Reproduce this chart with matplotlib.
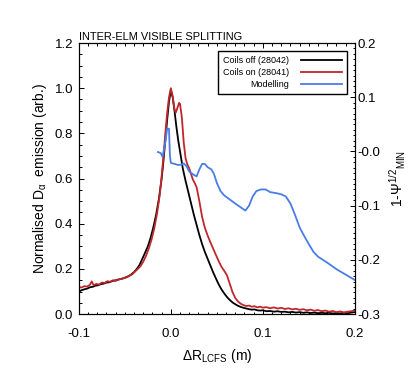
import numpy as np
import matplotlib
matplotlib.use('Agg')
import matplotlib.pyplot as plt
from matplotlib.ticker import MultipleLocator, FixedLocator, FixedFormatter

plt.rcParams['font.family'] = ['Liberation Sans', 'DejaVu Sans']
plt.rcParams['mathtext.default'] = 'regular'

# Coils off (28042)
x_off = [-0.100, -0.097, -0.094, -0.091, -0.088, -0.085, -0.082, -0.079, -0.076, -0.073,
         -0.070, -0.067, -0.064, -0.061, -0.058, -0.055, -0.052, -0.049, -0.046, -0.043,
         -0.040, -0.037, -0.034, -0.031, -0.028, -0.025, -0.022, -0.019, -0.016, -0.013,
         -0.010, -0.008, -0.006, -0.004, -0.002, 0.000, 0.002, 0.004, 0.006, 0.008,
         0.010, 0.013, 0.016, 0.019, 0.022, 0.025, 0.028, 0.031, 0.034, 0.037,
         0.040, 0.043, 0.046, 0.049, 0.052, 0.055, 0.058, 0.061, 0.064, 0.067,
         0.070, 0.073, 0.076, 0.079, 0.082, 0.085, 0.088, 0.091, 0.094, 0.097,
         0.100, 0.104, 0.108, 0.112, 0.116, 0.120, 0.124, 0.128, 0.132, 0.136,
         0.140, 0.144, 0.148, 0.152, 0.156, 0.160, 0.164, 0.168, 0.172, 0.176,
         0.180, 0.184, 0.188, 0.192, 0.196, 0.200]
y_off = [0.100, 0.106, 0.110, 0.113, 0.119, 0.121, 0.126, 0.128, 0.133, 0.135,
         0.140, 0.141, 0.146, 0.149, 0.152, 0.155, 0.158, 0.163, 0.168, 0.176,
         0.186, 0.200, 0.218, 0.245, 0.272, 0.300, 0.338, 0.385, 0.440, 0.510,
         0.600, 0.680, 0.770, 0.860, 0.940, 0.990, 0.960, 0.900, 0.830, 0.770,
         0.720, 0.645, 0.590, 0.540, 0.490, 0.440, 0.395, 0.350, 0.310, 0.275,
         0.245, 0.215, 0.185, 0.158, 0.132, 0.110, 0.092, 0.076, 0.063, 0.052,
         0.044, 0.037, 0.032, 0.028, 0.025, 0.022, 0.020, 0.021, 0.017, 0.016,
         0.017, 0.013, 0.014, 0.011, 0.013, 0.010, 0.011, 0.008, 0.010, 0.007,
         0.009, 0.006, 0.008, 0.005, 0.007, 0.004, 0.006, 0.004, 0.006, 0.003,
         0.005, 0.003, 0.006, 0.004, 0.007, 0.009]

# Coils on (28041)
x_on = [-0.100, -0.097, -0.094, -0.091, -0.088, -0.086, -0.084, -0.081, -0.078, -0.075,
        -0.072, -0.069, -0.066, -0.063, -0.060, -0.057, -0.054, -0.051, -0.048, -0.045,
        -0.042, -0.039, -0.036, -0.033, -0.030, -0.027, -0.024, -0.021, -0.018, -0.015,
        -0.012, -0.010, -0.008, -0.006, -0.004, -0.002, 0.000, 0.002, 0.004, 0.0055,
        0.007, 0.009, 0.010, 0.012, 0.014, 0.016, 0.018, 0.020, 0.022, 0.024,
        0.026, 0.028, 0.031, 0.034, 0.037, 0.040, 0.043, 0.046, 0.049, 0.052,
        0.055, 0.058, 0.061, 0.064, 0.067, 0.070, 0.073, 0.076, 0.079, 0.082,
        0.085, 0.088, 0.091, 0.094, 0.097, 0.100, 0.104, 0.108, 0.112, 0.116,
        0.120, 0.124, 0.128, 0.132, 0.136, 0.140, 0.144, 0.148, 0.152, 0.156,
        0.160, 0.164, 0.168, 0.172, 0.176, 0.180, 0.184, 0.188, 0.192, 0.196, 0.200]
y_on = [0.120, 0.118, 0.124, 0.122, 0.130, 0.145, 0.128, 0.134, 0.131, 0.140,
        0.138, 0.146, 0.143, 0.150, 0.147, 0.154, 0.156, 0.160, 0.163, 0.170,
        0.176, 0.188, 0.200, 0.212, 0.232, 0.258, 0.290, 0.330, 0.380, 0.445,
        0.530, 0.610, 0.700, 0.800, 0.890, 0.960, 1.000, 0.965, 0.905, 0.893,
        0.912, 0.935, 0.930, 0.870, 0.760, 0.690, 0.662, 0.645, 0.620, 0.595,
        0.580, 0.562, 0.500, 0.430, 0.382, 0.348, 0.318, 0.290, 0.262, 0.235,
        0.210, 0.192, 0.172, 0.135, 0.098, 0.072, 0.056, 0.046, 0.040, 0.036,
        0.038, 0.033, 0.035, 0.030, 0.033, 0.029, 0.031, 0.026, 0.030, 0.025,
        0.028, 0.023, 0.026, 0.021, 0.024, 0.019, 0.022, 0.017, 0.020, 0.015,
        0.018, 0.013, 0.016, 0.011, 0.014, 0.009, 0.012, 0.008, 0.011, 0.013, 0.016]

# Modelling, in 1-psi^(1/2) units (right axis)
x_mod = [-0.014, -0.011, -0.009, -0.006, -0.004, -0.002, -0.001, 0.000, 0.004, 0.008,
         0.012, 0.014, 0.017, 0.020, 0.024, 0.028, 0.031, 0.034, 0.037, 0.040,
         0.044, 0.047, 0.050, 0.054, 0.058, 0.070, 0.081, 0.085, 0.089, 0.093,
         0.098, 0.103, 0.108, 0.115, 0.120, 0.125, 0.130, 0.135, 0.140, 0.145,
         0.150, 0.155, 0.160, 0.170, 0.180, 0.190, 0.200]
y_mod = [-0.001, -0.003, -0.010, 0.017, 0.042, 0.042, -0.008, -0.021, -0.023, -0.025,
         -0.024, -0.022, -0.027, -0.037, -0.042, -0.046, -0.033, -0.023, -0.023, -0.029,
         -0.033, -0.042, -0.058, -0.073, -0.081, -0.096, -0.109, -0.100, -0.083, -0.073,
         -0.070, -0.070, -0.075, -0.077, -0.079, -0.083, -0.096, -0.117, -0.140, -0.156,
         -0.171, -0.185, -0.194, -0.205, -0.217, -0.227, -0.237]

right_ticks = [-0.3, -0.2, -0.1, 0.0, 0.1, 0.2]
right_labels = ['-0.3', '-0.2', '-0.1', '-0.0', '0.1', '0.2']

fig = plt.figure(figsize=(4.15, 3.74), dpi=100)
ax = fig.add_axes([0.190, 0.160, 0.665, 0.725])
ax2 = ax.twinx()

red = '#c0272d'
blue = '#4a7ce8'

l1, = ax.plot(x_off, y_off, color='black', lw=1.3, label='Coils off (28042)')
l2, = ax.plot(x_on, y_on, color=red, lw=1.3, label='Coils on (28041)')
l3, = ax2.plot(x_mod, y_mod, color=blue, lw=1.3, label='Modelling')

ax.set_xlim(-0.1, 0.2)
ax.set_ylim(0, 1.2)
ax2.set_ylim(-0.3, 0.2)

ax.xaxis.set_major_locator(MultipleLocator(0.1))
ax.xaxis.set_minor_locator(MultipleLocator(0.01))
ax.yaxis.set_major_locator(MultipleLocator(0.2))
ax.yaxis.set_minor_locator(MultipleLocator(0.05))
ax.xaxis.set_major_formatter(plt.FormatStrFormatter('%.1f'))
ax.yaxis.set_major_formatter(plt.FormatStrFormatter('%.1f'))
ax2.yaxis.set_major_locator(FixedLocator(right_ticks))
ax2.yaxis.set_major_formatter(FixedFormatter(right_labels))
ax2.yaxis.set_minor_locator(MultipleLocator(0.01))

ax.tick_params(which='both', direction='in', top=True, right=False, labelsize=9.5, width=0.7)
ax.tick_params(which='major', length=3.5)
ax.tick_params(which='minor', length=1.8)
ax.tick_params(axis='x', pad=10)
ax.tick_params(axis='y', pad=4)
ax2.tick_params(which='both', direction='in', labelsize=9.5, width=0.7, pad=2)
ax2.tick_params(which='major', length=3.5)
ax2.tick_params(which='minor', length=1.8)

for a in (ax, ax2):
    for s in a.spines.values():
        s.set_linewidth(0.8)

ax.set_xlabel(r'$\Delta$R$_{LCFS}$ (m)', fontsize=10, labelpad=5)
ax.set_ylabel(r'Normalised D$_{\alpha}$  emission (arb.)', fontsize=10, labelpad=4)
ax2.set_ylabel(r'1-$\Psi^{1/2}$$_{MIN}$', fontsize=10, labelpad=5)
ax.set_title('INTER-ELM VISIBLE SPLITTING', loc='left', fontsize=7.9, pad=2)

leg = ax.legend(handles=[l1, l2, l3], loc='upper right', markerfirst=False,
                fontsize=6.5, handlelength=4.5, fancybox=False, framealpha=1,
                edgecolor='black', borderaxespad=0.9, labelspacing=0.35,
                handletextpad=1.3, borderpad=0.55)
leg.get_frame().set_linewidth(1.0)

fig.savefig('out.png', dpi=100)
